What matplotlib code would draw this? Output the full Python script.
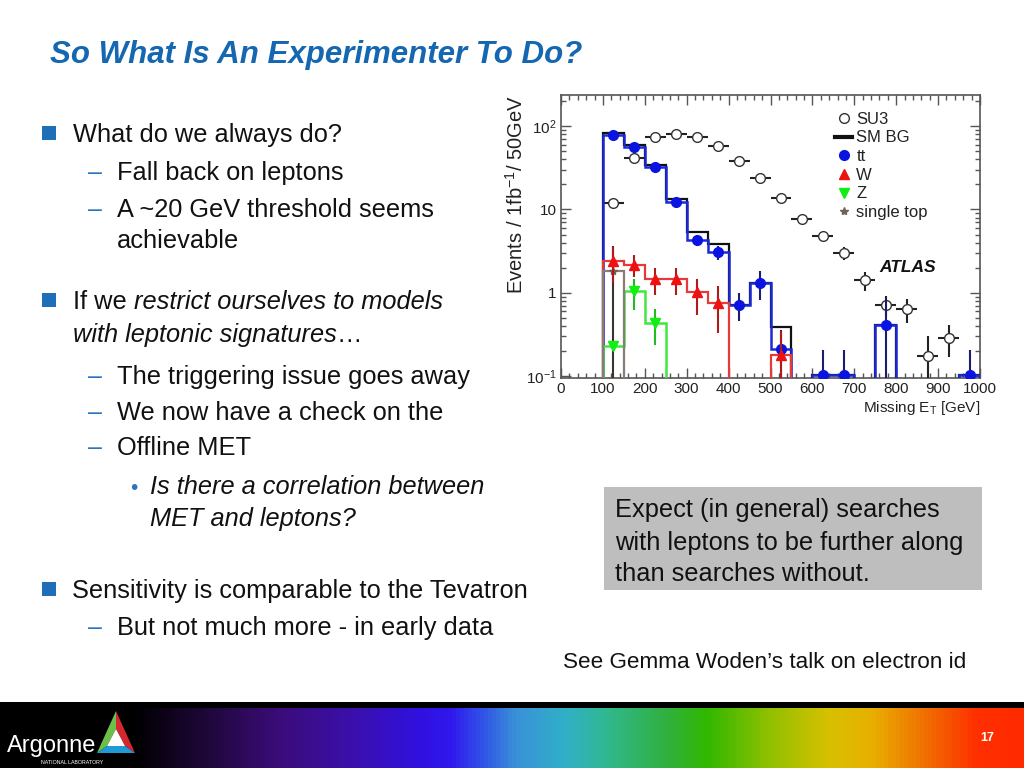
import numpy as np
import matplotlib
matplotlib.use("Agg")
import matplotlib.pyplot as plt
from matplotlib.colors import LinearSegmentedColormap
from matplotlib.patches import Rectangle, Polygon
from matplotlib.lines import Line2D
from matplotlib.ticker import FixedLocator, FixedFormatter, LogLocator, NullFormatter, MultipleLocator

plt.rcParams['font.family'] = ['Liberation Sans', 'DejaVu Sans']
plt.rcParams['mathtext.fontset'] = 'custom'
plt.rcParams['mathtext.rm'] = 'Liberation Sans'
plt.rcParams['mathtext.it'] = 'Liberation Sans:italic'
plt.rcParams['mathtext.bf'] = 'Liberation Sans:bold'
plt.rcParams['mathtext.sf'] = 'Liberation Sans'
plt.rcParams['mathtext.default'] = 'regular'

# ---------------- data ----------------
bin_edges = [0, 50, 100, 150, 200, 250, 300, 350, 400, 450, 500,
             550, 600, 650, 700, 750, 800, 850, 900, 950, 1000]
su3_vals = [0, 0, 12.1, 41.5, 75, 79.5, 73.7, 58.5, 37.8, 23.8, 13.6,
            7.6, 4.8, 3.0, 1.41, 0.72, 0.63, 0.173, 0.287, 0]
su3_errs = [0, 0, 1.0, 1.9, 2.6, 2.7, 2.6, 2.3, 1.8, 1.45, 1.1,
            0.8, 0.65, 0.5, 0.35, 0.2, 0.2, 0.13, 0.12, 0]
smbg_vals = [0, 0, 82, 59, 34.5, 13.5, 5.3, 3.85, 0.72, 1.32, 0.39,
             0, 0.104, 0.104, 0, 0.41, 0, 0, 0, 0.104]
tt_vals = [0, 0, 78, 56, 32, 12.2, 4.3, 3.06, 0.72, 1.32, 0.21,
           0, 0.104, 0.104, 0, 0.41, 0, 0, 0, 0.104]
tt_errs = [0, 0, 2.8, 2.4, 1.8, 1.1, 0.65, 0.6, 0.26, 0.5, 0.15,
           0, 0.1, 0.1, 0, 0.4, 0, 0, 0, 0.1]
w_vals = [0, 0, 2.42, 2.18, 1.46, 1.47, 1.01, 0.76, 0, 0, 0.18,
          0, 0, 0, 0, 0, 0, 0, 0, 0]
w_errs = [0, 0, 1.1, 0.65, 0.52, 0.52, 0.47, 0.43, 0, 0, 0.17,
          0, 0, 0, 0, 0, 0, 0, 0, 0]
z_vals = [0, 0, 0.228, 1.05, 0.435, 0, 0, 0, 0, 0, 0,
          0, 0, 0, 0, 0, 0, 0, 0, 0]
z_errs = [0, 0, 0.03, 0.43, 0.2, 0, 0, 0, 0, 0, 0,
          0, 0, 0, 0, 0, 0, 0, 0, 0]
st_vals = [0, 0, 1.83, 0, 0, 0, 0, 0, 0, 0, 0,
           0, 0, 0, 0, 0, 0, 0, 0, 0]
st_errs = [0, 0, 1.78, 0, 0, 0, 0, 0, 0, 0, 0,
           0, 0, 0, 0, 0, 0, 0, 0, 0]
x_ticks = [0, 100, 200, 300, 400, 500, 600, 700, 800, 900, 1000]
y_ticks = [0.1, 1, 10, 100]
y_tick_labels = ['10$^{-1}$', '1', '10', '10$^{2}$']
legend_labels = ['SU3', 'SM BG', 'tt', 'W', 'Z', 'single top']

# ---------------- figure ----------------
W, H = 1024, 768
fig = plt.figure(figsize=(W / 100, H / 100), dpi=100)
fig.patch.set_facecolor('white')


def P(x, y):
    return (x / W, 1 - y / H)


# ---------------- chart ----------------
ax = fig.add_axes([561 / W, 1 - 378 / H, 419 / W, 283 / H])
edges = np.array(bin_edges, dtype=float)
centers = 0.5 * (edges[:-1] + edges[1:])
FLOOR = 1e-3


def stairs(vals, color, lw, z):
    v = np.array(vals, dtype=float)
    v = np.where(v > 0, v, FLOOR)
    ax.stairs(v, edges, baseline=FLOOR, color=color, lw=lw, zorder=z)


def points(vals, errs, color, ecolor, marker, ms, z):
    v = np.array(vals, dtype=float)
    e = np.array(errs, dtype=float)
    m = v > 0
    ax.errorbar(centers[m], v[m], yerr=e[m], fmt=marker, color=color, ecolor=ecolor,
                ms=ms, mfc=color, mec=color, elinewidth=1.5, capsize=0, zorder=z)


# SU3 open circles with error crosses
sv = np.array(su3_vals); se = np.array(su3_errs); ms_ = sv > 0
ax.errorbar(centers[ms_], sv[ms_], yerr=se[ms_], xerr=np.full(ms_.sum(), 25.0),
            fmt='o', color='#222222', ecolor='#222222', ms=7, mfc='white', mec='#333333',
            mew=1.0, elinewidth=1.5, capsize=0, zorder=3)

stairs(smbg_vals, '#111111', 1.6, 4)
stairs(tt_vals, '#1a2ad6', 1.8, 5)
stairs(w_vals, '#e63a3a', 1.6, 6)
stairs(z_vals, '#3ee83e', 1.8, 6)
stairs(st_vals, '#8a7e74', 1.6, 6)

points(st_vals, st_errs, '#6f6358', '#3a3330', '*', 6, 7)
points(tt_vals, tt_errs, '#0a14e0', '#1c1c70', 'o', 7, 8)
points(w_vals, w_errs, '#ee1111', '#b01a1a', '^', 6.5, 9)
points(z_vals, z_errs, '#11ee11', '#22bb22', 'v', 6.5, 9)

ax.set_yscale('log')
ax.set_xlim(0, 1000)
ax.set_ylim(0.0945, 237)
ax.xaxis.set_major_locator(FixedLocator(x_ticks))
ax.xaxis.set_minor_locator(MultipleLocator(20))
ax.yaxis.set_major_locator(FixedLocator(y_ticks))
ax.yaxis.set_major_formatter(FixedFormatter(y_tick_labels))
ax.yaxis.set_minor_locator(LogLocator(base=10, subs=np.arange(2, 10)))
ax.yaxis.set_minor_formatter(NullFormatter())
ax.tick_params(which='both', direction='in', top=True, right=True, color='#555555', width=1)
ax.tick_params(which='major', length=7, labelsize=11, pad=3, labelcolor='#222222')
ax.tick_params(which='minor', length=3.5)
for s in ax.spines.values():
    s.set_color('#555555')
    s.set_linewidth(1.2)

ax.set_xlabel('Missing E$_{T}$ [GeV]', loc='right', fontsize=11, color='#222222', labelpad=2)
ax.set_ylabel('Events / 1fb$^{-1}$/ 50GeV', loc='top', fontsize=14.5, color='#222222')
ax.yaxis.set_label_coords(-0.082, 1.0)

ax.text(0.761, 0.389, 'ATLAS', transform=ax.transAxes, fontsize=12.5,
        fontweight='bold', fontstyle='italic', va='center', ha='left', color='#111111')

handles = [
    Line2D([], [], marker='o', ls='none', mfc='white', mec='#333333', ms=7),
    Line2D([], [], color='#111111', lw=3),
    Line2D([], [], marker='o', ls='none', color='#0a14e0', ms=7),
    Line2D([], [], marker='^', ls='none', color='#ee1111', ms=7),
    Line2D([], [], marker='v', ls='none', color='#11ee11', ms=7),
    Line2D([], [], marker='*', ls='none', color='#6f6358', ms=6),
]
leg = ax.legend(handles, legend_labels, loc='upper left', bbox_to_anchor=(0.655, 0.941),
                frameon=False, fontsize=12, handlelength=1.0, handletextpad=0.25,
                labelspacing=0.22, borderpad=0, borderaxespad=0)
for t in leg.get_texts():
    t.set_color('#222222')

# ---------------- slide text ----------------
BLUE = '#1467b0'
TXT = '#111111'
fig.text(*P(50, 63), 'So What Is An Experimenter To Do?', fontsize=22.5, fontweight='bold',
         fontstyle='italic', color=BLUE, va='baseline', ha='left')


def square(y):
    fig.add_artist(Rectangle(P(42, y + 7), 14 / W, 14 / H, transform=fig.transFigure,
                             facecolor='#1f6eb8', edgecolor='none'))


def dash(y):
    fig.text(*P(88, y), '–', fontsize=18, color='#2a74c0', va='baseline', ha='left')


FS = 18.3
square(133)
fig.text(*P(73, 142), 'What do we always do?', fontsize=FS, color=TXT, va='baseline')
dash(180)
fig.text(*P(117, 180), 'Fall back on leptons', fontsize=FS, color=TXT, va='baseline')
dash(217)
fig.text(*P(117, 217), 'A ~20 GeV threshold seems', fontsize=FS, color=TXT, va='baseline')
fig.text(*P(117, 248), 'achievable', fontsize=FS, color=TXT, va='baseline')

square(300)
t1 = fig.text(*P(73, 314), 'If we', fontsize=FS, color=TXT, va='bottom')
plt.annotate('restrict ourselves to models', xy=(1, 0), xycoords=t1, xytext=(5, 0),
             textcoords='offset points', fontsize=FS, fontstyle='italic', color=TXT,
             va='bottom', ha='left', annotation_clip=False)
t3 = fig.text(*P(73, 347), 'with leptonic signatures', fontsize=FS, fontstyle='italic',
              color=TXT, va='bottom')
plt.annotate('…', xy=(1, 0), xycoords=t3, xytext=(0, 0), textcoords='offset points',
             fontsize=FS, color=TXT, va='bottom', ha='left', annotation_clip=False)
dash(384)
fig.text(*P(117, 384), 'The triggering issue goes away', fontsize=FS, color=TXT, va='baseline')
dash(420)
fig.text(*P(117, 420), 'We now have a check on the', fontsize=FS, color=TXT, va='baseline')
dash(455)
fig.text(*P(117, 455), 'Offline MET', fontsize=FS, color=TXT, va='baseline')
fig.text(*P(130, 494), '•', fontsize=15, color='#2a74c0', va='baseline')
fig.text(*P(150, 494), 'Is there a correlation between', fontsize=FS, fontstyle='italic',
         color=TXT, va='baseline')
fig.text(*P(150, 526), 'MET and leptons?', fontsize=FS, fontstyle='italic', color=TXT, va='baseline')

square(589)
fig.text(*P(72, 598), 'Sensitivity is comparable to the Tevatron', fontsize=FS, color=TXT, va='baseline')
dash(635)
fig.text(*P(117, 635), 'But not much more - in early data', fontsize=FS, color=TXT, va='baseline')

# grey box
fig.add_artist(Rectangle(P(604, 590), 378 / W, 103 / H, transform=fig.transFigure,
                         facecolor='#bebebe', edgecolor='none'))
fig.text(*P(615, 517), 'Expect (in general) searches', fontsize=FS, color=TXT, va='baseline')
fig.text(*P(615, 550), 'with leptons to be further along', fontsize=FS, color=TXT, va='baseline')
fig.text(*P(615, 581), 'than searches without.', fontsize=FS, color=TXT, va='baseline')

fig.text(*P(563, 668), 'See Gemma Woden\u2019s talk on electron id', fontsize=16.2, color=TXT,
         va='baseline')

# ---------------- footer ----------------
fax = fig.add_axes([0, 0, 1, 65 / H])
fax.set_axis_off()
grad_cmap = LinearSegmentedColormap.from_list('band', [
    (0.00, '#000000'), (0.13, '#000000'), (0.20, '#1e0838'), (0.27, '#3a0c78'),
    (0.35, '#3a10b0'), (0.41, '#3010e0'), (0.44, '#3018ee'), (0.47, '#3050e8'),
    (0.503, '#3a90d8'), (0.552, '#30b0c8'), (0.592, '#30b890'), (0.651, '#30b040'),
    (0.691, '#30b800'), (0.752, '#90c000'), (0.812, '#d8c000'), (0.853, '#e8b000'),
    (0.905, '#f07000'), (0.955, '#ff3000'), (1.00, '#ff2a00')])
fax.imshow(np.linspace(0, 1, 1024)[None, :], aspect='auto', cmap=grad_cmap,
           extent=(0, 1, 0, 1))
fax.set_xlim(0, 1); fax.set_ylim(0, 1)
fig.add_artist(Rectangle(P(0, 708), 1, 6 / H, transform=fig.transFigure,
                         facecolor='black', edgecolor='none'))

# Argonne logo triangle
A = (116, 711); B = (97, 753); C = (135, 753)
a = (116, 729); b = (107, 746); c = (125, 746)
for pts, col in [([A, C, c, a], '#d4272e'), ([A, a, b, B], '#6cbf4a'), ([B, b, c, C], '#1f9ad6')]:
    fig.add_artist(Polygon([P(*p) for p in pts], closed=True, transform=fig.transFigure,
                           facecolor=col, edgecolor='none'))
fig.add_artist(Polygon([P(*p) for p in [a, b, c]], closed=True, transform=fig.transFigure,
                       facecolor='white', edgecolor='none'))
fig.text(*P(7, 752), 'Argonne', fontsize=17, color='white', va='baseline')
fig.text(*P(41, 764), 'NATIONAL LABORATORY', fontsize=3.8, color='white', va='baseline')
fig.text(*P(987, 741), '17', fontsize=9, fontweight='bold', color='white', va='baseline', ha='center')

fig.savefig('out.png', dpi=100)
